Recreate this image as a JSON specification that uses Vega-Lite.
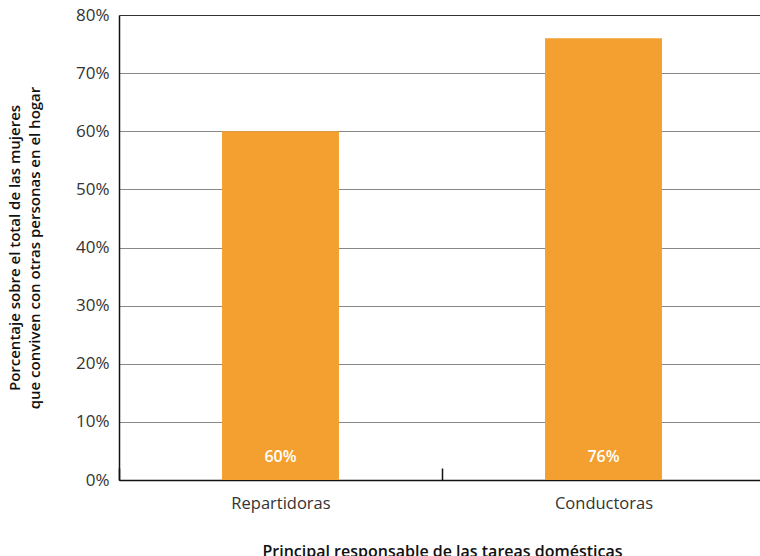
{
  "$schema": "https://vega.github.io/schema/vega-lite/v6.json",
  "width": 646,
  "height": 465,
  "autosize": {"type": "none"},
  "padding": {"left": 119, "top": 15, "right": 0, "bottom": 76},
  "background": "white",
  "config": {"view": {"stroke": null}, "font": "Open Sans"},
  "data": {"values": [
    {"grupo": "Repartidoras", "pct": 0.60},
    {"grupo": "Conductoras", "pct": 0.76}
  ]},
  "encoding": {
    "x": {
      "field": "grupo", "type": "nominal", "sort": null,
      "scale": {"paddingInner": 0, "paddingOuter": 0},
      "axis": {
        "title": "Principal responsable de las tareas domésticas",
        "titleFontSize": 16, "titleFontWeight": 600, "titleColor": "#111",
        "titlePadding": 32,
        "labelAngle": 0, "labelFontSize": 16.5, "labelColor": "#333", "labelPadding": 27,
        "domainColor": "#111", "domainWidth": 1.5,
        "tickColor": "#111", "tickSize": -12, "tickWidth": 1.5,
        "tickOffset": -161.5, "labelOffset": 161.5,
        "grid": false
      }
    }
  },
  "layer": [
    {
      "mark": {"type": "bar", "color": "#F4A031", "width": {"band": 0.362}},
      "encoding": {
        "y": {
          "field": "pct", "type": "quantitative",
          "scale": {"domain": [0, 0.8]},
          "axis": {
            "format": ".0%",
            "values": [0, 0.1, 0.2, 0.3, 0.4, 0.5, 0.6, 0.7, 0.8],
            "title": ["Porcentaje sobre el total de las mujeres", "que conviven con otras personas en el hogar"],
            "titleFontSize": 15, "titleFontWeight": 600, "titleColor": "#111",
            "titleLineHeight": 20, "titleBaseline": "top", "titleX": -112,
            "labelFontSize": 17, "labelColor": "#333", "labelPadding": 10,
            "ticks": false,
            "domainColor": "#111", "domainWidth": 1.5,
            "gridColor": {"condition": {"test": "datum.value === 0.8", "value": "#333"}, "value": "#888"},
            "gridWidth": 1.2
          }
        }
      }
    },
    {
      "mark": {"type": "text", "color": "white", "fontSize": 16, "fontWeight": 600, "dy": -23},
      "encoding": {
        "y": {"datum": 0, "type": "quantitative"},
        "text": {"field": "pct", "type": "quantitative", "format": ".0%"}
      }
    }
  ]
}
